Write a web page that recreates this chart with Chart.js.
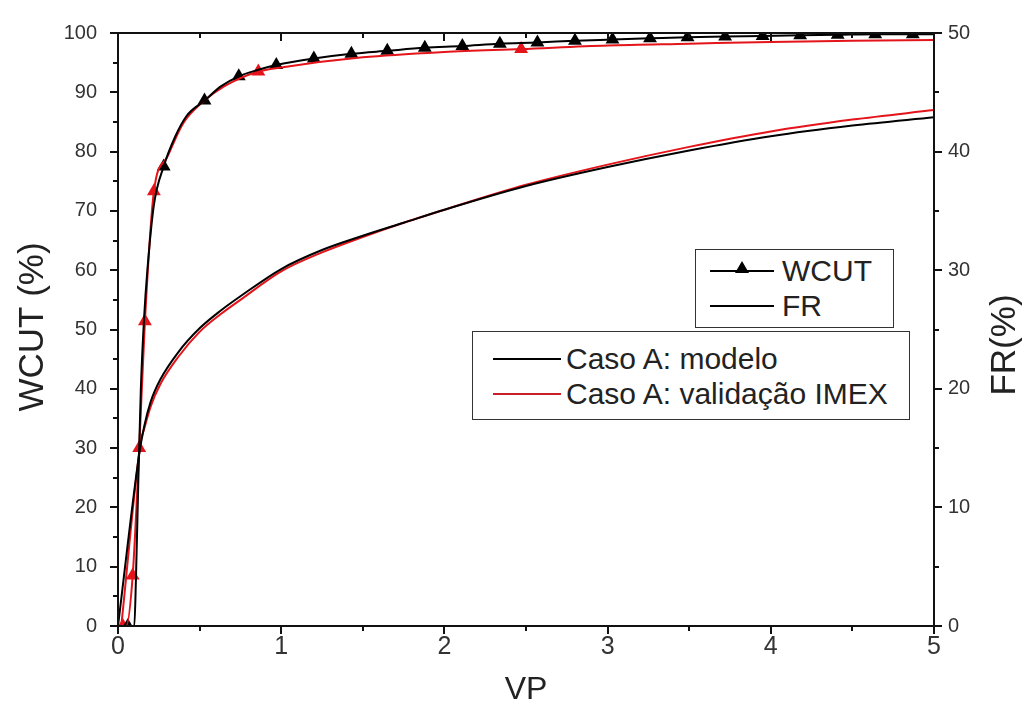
<!DOCTYPE html>
<html>
<head>
<meta charset="utf-8">
<script src="https://cdn.jsdelivr.net/npm/chart.js@4.4.1/dist/chart.umd.min.js"></script>
<style>
  html, body { margin: 0; padding: 0; background: #fff; }
  #wrap { position: relative; width: 1022px; height: 716px; }
  .legend { position: absolute; border: 1.5px solid #333; background: #fff;
            font-family: "Liberation Sans", Arial, sans-serif; color: #222; font-size: 30px; }
  .row { position: absolute; height: 34px; line-height: 34px; white-space: nowrap; }
  .ln { position: absolute; top: 16px; height: 2px; }
  .tri { position: absolute; top: 7px; width: 0; height: 0;
         border-left: 7px solid transparent; border-right: 7px solid transparent; border-bottom: 12px solid #000; }
  .txt { position: absolute; top: 0; }
</style>
</head>
<body>
<div id="wrap">
  <canvas id="chart" width="1022" height="716"></canvas>
  <div class="legend" style="left:695px; top:249px; width:197px; height:77px;">
    <div class="row" style="left:0; top:4px;">
      <div class="ln" style="left:14px; width:64px; background:#000;"></div>
      <div class="tri" style="left:39px;"></div>
      <div class="txt" style="left:86px;">WCUT</div>
    </div>
    <div class="row" style="left:0; top:39px;">
      <div class="ln" style="left:14px; width:64px; background:#000;"></div>
      <div class="txt" style="left:86px;">FR</div>
    </div>
  </div>
  <div class="legend" style="left:472px; top:331px; width:436px; height:87px;">
    <div class="row" style="left:0; top:10px;">
      <div class="ln" style="left:20px; width:68px; background:#000;"></div>
      <div class="txt" style="left:93px;">Caso A: modelo</div>
    </div>
    <div class="row" style="left:0; top:45px;">
      <div class="ln" style="left:20px; width:68px; background:#c8202a;"></div>
      <div class="txt" style="left:93px;">Caso A: validação IMEX</div>
    </div>
  </div>
</div>
<script>
// WCUT (%) - modelo (linha preta)
const vpWcutModelo = [0, 0.1, 0.11, 0.125, 0.14, 0.16, 0.18, 0.22, 0.28, 0.35, 0.42, 0.53, 0.63, 0.74, 0.86, 0.97, 1.2, 1.43, 1.65, 1.88, 2.11, 2.34, 2.57, 2.8, 3.03, 3.26, 3.49, 3.72, 3.95, 4.18, 4.41, 4.64, 4.87, 5.0];
const wcutModelo = [0, 0, 8, 25, 40, 52, 60, 71, 77.5, 82.5, 86, 88.6, 91, 92.7, 93.8, 94.6, 95.7, 96.5, 97.0, 97.5, 97.8, 98.2, 98.4, 98.7, 98.9, 99.1, 99.3, 99.4, 99.5, 99.6, 99.7, 99.8, 99.8, 99.8];
// marcadores (triangulos pretos)
const vpMarkModelo = [0.06, 0.28, 0.53, 0.74, 0.97, 1.2, 1.43, 1.65, 1.88, 2.11, 2.34, 2.57, 2.8, 3.03, 3.26, 3.49, 3.72, 3.95, 4.18, 4.41, 4.64, 4.87];
const wcutMarkModelo = [0, 77.5, 88.6, 92.7, 94.6, 95.7, 96.5, 97.0, 97.5, 97.8, 98.2, 98.4, 98.7, 98.9, 99.1, 99.3, 99.4, 99.5, 99.6, 99.7, 99.8, 99.8];

// WCUT (%) - validação IMEX (linha vermelha)
const vpWcutImex = [0.02, 0.05, 0.09, 0.13, 0.165, 0.22, 0.3, 0.4, 0.53, 0.65, 0.86, 1.0, 1.5, 2.0, 2.47, 3.0, 3.5, 4.0, 4.5, 5.0];
const wcutImex = [0, 0, 8.5, 30, 51.4, 73.3, 79.0, 84.8, 88.6, 91, 93.5, 94.2, 95.9, 96.8, 97.3, 97.9, 98.2, 98.5, 98.7, 98.8];
const vpMarkImex = [0.03, 0.09, 0.13, 0.165, 0.22, 0.86, 2.47];
const wcutMarkImex = [0, 8.5, 30, 51.4, 73.3, 93.5, 97.3];

// FR (%) - eixo da direita
const vpFrModelo = [0, 0.13, 0.16, 0.2, 0.26, 0.37, 0.5, 0.63, 0.75, 1.0, 1.25, 1.5, 1.75, 2.0, 2.5, 3.0, 3.5, 4.0, 4.5, 5.0];
const frModelo = [0, 14.5, 16.8, 18.9, 20.8, 23.1, 25.1, 26.6, 27.8, 30.1, 31.7, 32.9, 34.0, 35.1, 37.1, 38.7, 40.1, 41.3, 42.2, 42.9];
const vpFrImex = [0.02, 0.14, 0.16, 0.2, 0.26, 0.37, 0.5, 0.63, 0.75, 1.0, 1.25, 1.5, 1.75, 2.0, 2.5, 3.0, 3.5, 4.0, 4.5, 5.0];
const frImex = [0, 15.6, 16.6, 18.5, 20.4, 22.7, 24.8, 26.3, 27.5, 29.9, 31.5, 32.8, 34.0, 35.1, 37.2, 38.9, 40.4, 41.7, 42.7, 43.5];

const xTicks = [0, 1, 2, 3, 4, 5];
const yTicks = [0, 10, 20, 30, 40, 50, 60, 70, 80, 90, 100];
const y2Ticks = [0, 10, 20, 30, 40, 50];

const pts = (xs, ys) => xs.map((x, i) => ({ x: x, y: ys[i] }));
const RED = '#e4141b';

const frame = {
  id: 'frame',
  afterDraw(chart) {
    const { ctx, chartArea: a, scales } = chart;
    const x = scales.x, y = scales.y, y2 = scales.y2;
    ctx.save();
    ctx.strokeStyle = '#111';
    ctx.lineWidth = 2;
    ctx.strokeRect(a.left, a.top, a.right - a.left, a.bottom - a.top);
    ctx.beginPath();
    // x ticks: bottom outward, top inward
    for (let v = 0; v <= 5.001; v += 0.5) {
      const px = Math.round(x.getPixelForValue(v));
      const len = Math.abs(v - Math.round(v)) < 1e-6 ? 8 : 5;
      ctx.moveTo(px, a.bottom); ctx.lineTo(px, a.bottom + len);
      ctx.moveTo(px, a.top); ctx.lineTo(px, a.top + len);
    }
    // left ticks outward
    for (let v = 0; v <= 100; v += 5) {
      const py = Math.round(y.getPixelForValue(v));
      const len = v % 10 === 0 ? 8 : 5;
      ctx.moveTo(a.left, py); ctx.lineTo(a.left - len, py);
    }
    // right ticks
    for (let v = 0; v <= 50; v += 5) {
      const py = Math.round(y2.getPixelForValue(v));
      const len = v % 10 === 0 ? 8 : 5;
      ctx.moveTo(a.right, py); ctx.lineTo(a.right + len, py);
    }
    ctx.stroke();

    // axis titles
    ctx.fillStyle = '#222';
    ctx.textAlign = 'center';
    ctx.textBaseline = 'middle';
    ctx.font = '32px "Liberation Sans Narrow", "Liberation Sans", Arial, sans-serif';
    ctx.fillText('VP', (a.left + a.right) / 2, 690);
    ctx.font = '35px "Liberation Sans", Arial, sans-serif';
    ctx.save();
    ctx.translate(33, 327);
    ctx.rotate(-Math.PI / 2);
    ctx.fillText('WCUT (%)', 0, 0);
    ctx.restore();
    ctx.save();
    ctx.translate(1005, 345);
    ctx.rotate(-Math.PI / 2);
    ctx.fillText('FR(%)', 0, 0);
    ctx.restore();
    ctx.restore();
  }
};

const tickFont = { family: '"Liberation Sans", Arial, sans-serif', size: 20 };

new Chart(document.getElementById('chart'), {
  type: 'line',
  data: {
    datasets: [
      { data: pts(vpWcutModelo, wcutModelo), yAxisID: 'y', borderColor: '#000', borderWidth: 2, pointRadius: 0, cubicInterpolationMode: 'monotone' },
      { data: pts(vpFrModelo, frModelo), yAxisID: 'y2', borderColor: '#000', borderWidth: 2, pointRadius: 0, cubicInterpolationMode: 'monotone' },
      { data: pts(vpWcutImex, wcutImex), yAxisID: 'y', borderColor: RED, borderWidth: 2, pointRadius: 0, cubicInterpolationMode: 'monotone' },
      { data: pts(vpFrImex, frImex), yAxisID: 'y2', borderColor: RED, borderWidth: 2, pointRadius: 0, cubicInterpolationMode: 'monotone' },
      { data: pts(vpMarkModelo, wcutMarkModelo), yAxisID: 'y', showLine: false, pointStyle: 'triangle', pointRadius: 8, backgroundColor: '#000', borderColor: '#000', borderWidth: 0 },
      { data: pts(vpMarkImex, wcutMarkImex), yAxisID: 'y', showLine: false, pointStyle: 'triangle', pointRadius: 8, backgroundColor: RED, borderColor: RED, borderWidth: 0 }
    ]
  },
  options: {
    responsive: false,
    animation: false,
    layout: { padding: { top: 27, left: 0, right: 0, bottom: 0 } },
    plugins: { legend: { display: false }, tooltip: { enabled: false } },
    scales: {
      x: {
        type: 'linear', min: 0, max: 5,
        grid: { display: false, drawTicks: false },
        border: { display: false },
        afterBuildTicks: s => { s.ticks = xTicks.map(v => ({ value: v })); },
        afterFit: s => { s.height = 90; },
        ticks: { padding: 6, color: '#333', font: { family: '"Liberation Sans Narrow", "Liberation Sans", Arial, sans-serif', size: 25 } }
      },
      y: {
        position: 'left', min: 0, max: 100,
        grid: { display: false, drawTicks: false },
        border: { display: false },
        afterBuildTicks: s => { s.ticks = yTicks.map(v => ({ value: v })); },
        afterFit: s => { s.width = 118; },
        ticks: { padding: 21, color: '#333', font: tickFont }
      },
      y2: {
        position: 'right', min: 0, max: 50,
        grid: { display: false, drawTicks: false },
        border: { display: false },
        afterBuildTicks: s => { s.ticks = y2Ticks.map(v => ({ value: v })); },
        afterFit: s => { s.width = 88; },
        ticks: { padding: 14, color: '#333', font: tickFont }
      }
    }
  },
  plugins: [frame]
});
</script>
</body>
</html>
